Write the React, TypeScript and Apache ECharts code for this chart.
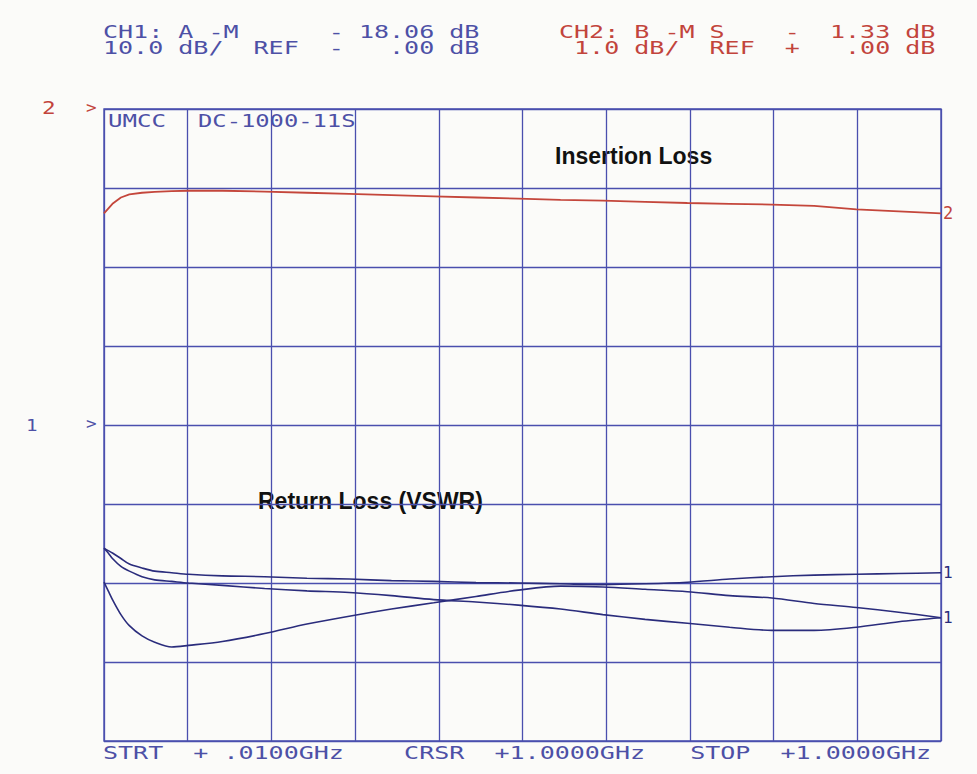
import React, { useEffect, useRef } from "react";
import * as echarts from "echarts";

// Sweep frequencies (MHz), 10 MHz .. 1000 MHz
const freqMHz = [10, 15, 20, 30, 40, 55, 70, 90, 110, 150, 200, 250, 300, 350, 400, 450, 500, 550, 600, 650, 700, 750, 800, 850, 900, 950, 1000];

// CH1 (10 dB/div, REF 0 dB at 4th division from top): return loss traces (dB)
const returnLossA = [-15.6, -15.9, -16.2, -16.9, -17.6, -18.1, -18.5, -18.7, -18.9, -19.1, -19.2, -19.4, -19.5, -19.7, -19.8, -19.95, -20.0, -20.1, -20.2, -20.1, -19.9, -19.5, -19.2, -19.0, -18.9, -18.8, -18.7];
const returnLossB = [-15.6, -16.2, -16.9, -17.9, -18.5, -19.2, -19.6, -19.8, -20.0, -20.3, -20.7, -21.0, -21.2, -21.6, -22.1, -22.4, -22.8, -23.3, -24.0, -24.6, -25.1, -25.6, -26.0, -26.0, -25.6, -24.9, -24.4];
const returnLossC = [-19.9, -21.0, -22.1, -24.0, -25.4, -26.7, -27.5, -28.1, -27.9, -27.4, -26.4, -25.2, -24.2, -23.3, -22.5, -21.7, -20.9, -20.4, -20.5, -20.8, -21.1, -21.6, -21.9, -22.6, -23.1, -23.7, -24.4];

// CH2 (1 dB/div, REF 0 dB at top): insertion loss (dB)
const insertionLoss = [-1.32, -1.26, -1.2, -1.12, -1.08, -1.06, -1.05, -1.04, -1.035, -1.035, -1.045, -1.06, -1.075, -1.09, -1.105, -1.12, -1.135, -1.15, -1.16, -1.175, -1.19, -1.2, -1.21, -1.225, -1.27, -1.295, -1.32];

// Annotation texts
const ch1Line1 = "CH1: A -M      - 18.06 dB";
const ch1Line2 = "10.0 dB/  REF  -   .00 dB";
const ch2Line1 = "CH2: B -M S    -  1.33 dB";
const ch2Line2 = " 1.0 dB/  REF  +   .00 dB";
const footerLine = "STRT  + .0100GHz    CRSR  +1.0000GHz   STOP  +1.0000GHz";
const deviceLabels = ["UMCC", "DC-1000-11S"];
const traceTitles = ["Insertion Loss", "Return Loss (VSWR)"];

const BLUE_TXT = "#4d50a6";
const RED_TXT = "#c2443c";
const GRID = "#4a4fae";
const TRACE_BLUE = "#2a2c7c";
const TRACE_RED = "#c4463b";
const MONO = "'DejaVu Sans Mono', 'Liberation Mono', monospace";

export default function App() {
  const ref = useRef<HTMLDivElement>(null);
  useEffect(() => {
    document.body.style.margin = "0";
    if (!ref.current) return;
    const chart = echarts.init(ref.current, null, { renderer: "svg" });

    const toPairs = (vals: number[]) => freqMHz.map((f, i) => [f, vals[i]]);

    const monoText = (text: string, x: number, y: number, color: string, size = 17.5, sx = 1.43) => ({
      type: "text",
      x,
      y,
      scaleX: sx,
      silent: true,
      style: {
        text,
        x: 0,
        y: 0,
        fill: color,
        fontFamily: MONO,
        fontSize: size,
        textAlign: "left",
        textVerticalAlign: "middle",
      },
    });

    const option: any = {
      animation: false,
      backgroundColor: "#fbfbf9",
      grid: {
        left: 104,
        top: 109,
        right: 36,
        bottom: 33,
        show: true,
        borderColor: GRID,
        borderWidth: 1.4,
      },
      xAxis: [
        {
          type: "value",
          min: 10,
          max: 1000,
          show: false,
          splitLine: { show: false },
        },
        {
          type: "value",
          min: 0,
          max: 10,
          interval: 1,
          axisLabel: { show: false },
          axisLine: { show: false },
          axisTick: { show: false },
          splitLine: { show: true, lineStyle: { color: GRID, width: 1.3 } },
        },
      ],
      yAxis: [
        {
          type: "value",
          min: -40,
          max: 40,
          interval: 10,
          axisLabel: { show: false },
          axisLine: { show: false },
          axisTick: { show: false },
          splitLine: { show: true, lineStyle: { color: GRID, width: 1.3 } },
        },
        {
          type: "value",
          min: -8,
          max: 0,
          interval: 1,
          axisLabel: { show: false },
          axisLine: { show: false },
          axisTick: { show: false },
          splitLine: { show: false },
        },
      ],
      series: [
        {
          name: "Insertion Loss",
          type: "line",
          xAxisIndex: 0,
          yAxisIndex: 1,
          data: toPairs(insertionLoss),
          showSymbol: false,
          lineStyle: { color: TRACE_RED, width: 1.8 },
          endLabel: { show: true, formatter: "2", color: RED_TXT, fontFamily: MONO, fontSize: 17, distance: 2 },
        },
        {
          name: "Return Loss A",
          type: "line",
          xAxisIndex: 0,
          yAxisIndex: 0,
          data: toPairs(returnLossA),
          showSymbol: false,
          smooth: 0.3,
          lineStyle: { color: TRACE_BLUE, width: 1.6 },
          endLabel: { show: true, formatter: "1", color: TRACE_BLUE, fontFamily: MONO, fontSize: 16, distance: 2 },
        },
        {
          name: "Return Loss B",
          type: "line",
          xAxisIndex: 0,
          yAxisIndex: 0,
          data: toPairs(returnLossB),
          showSymbol: false,
          smooth: 0.3,
          lineStyle: { color: TRACE_BLUE, width: 1.6 },
          endLabel: { show: true, formatter: "1", color: TRACE_BLUE, fontFamily: MONO, fontSize: 16, distance: 2 },
        },
        {
          name: "Return Loss C",
          type: "line",
          xAxisIndex: 0,
          yAxisIndex: 0,
          data: toPairs(returnLossC),
          showSymbol: false,
          smooth: 0.3,
          lineStyle: { color: TRACE_BLUE, width: 1.6 },
        },
      ],
      graphic: [
        monoText(ch1Line1, 103, 32, BLUE_TXT),
        monoText(ch1Line2, 103, 48, BLUE_TXT),
        monoText(ch2Line1, 559, 32, RED_TXT),
        monoText(ch2Line2, 559, 48, RED_TXT),
        monoText(footerLine, 103, 753, BLUE_TXT),
        monoText(deviceLabels[0], 108, 121, BLUE_TXT, 17.5, 1.38),
        monoText(deviceLabels[1], 198, 121, BLUE_TXT, 17.5, 1.36),
        monoText("2", 42, 108, RED_TXT, 17.5, 1.3),
        monoText(">", 86, 107, RED_TXT, 16, 1.1),
        monoText("1", 26, 426, BLUE_TXT, 16, 1.2),
        monoText(">", 86, 423, BLUE_TXT, 16, 1.1),
        {
          type: "text",
          x: 555,
          y: 156,
          silent: true,
          style: {
            text: traceTitles[0],
            x: 0,
            y: 0,
            fill: "#111111",
            fontFamily: "'Liberation Sans', Arial, sans-serif",
            fontWeight: "bold",
            fontSize: 23,
            textAlign: "left",
            textVerticalAlign: "middle",
          },
        },
        {
          type: "text",
          x: 258,
          y: 501,
          silent: true,
          style: {
            text: traceTitles[1],
            x: 0,
            y: 0,
            fill: "#111111",
            fontFamily: "'Liberation Sans', Arial, sans-serif",
            fontWeight: "bold",
            fontSize: 23,
            textAlign: "left",
            textVerticalAlign: "middle",
          },
        },
      ],
    };

    chart.setOption(option);
    return () => chart.dispose();
  }, []);

  return <div ref={ref} style={{ position: "fixed", left: 0, top: 0, width: 977, height: 774 }} />;
}
